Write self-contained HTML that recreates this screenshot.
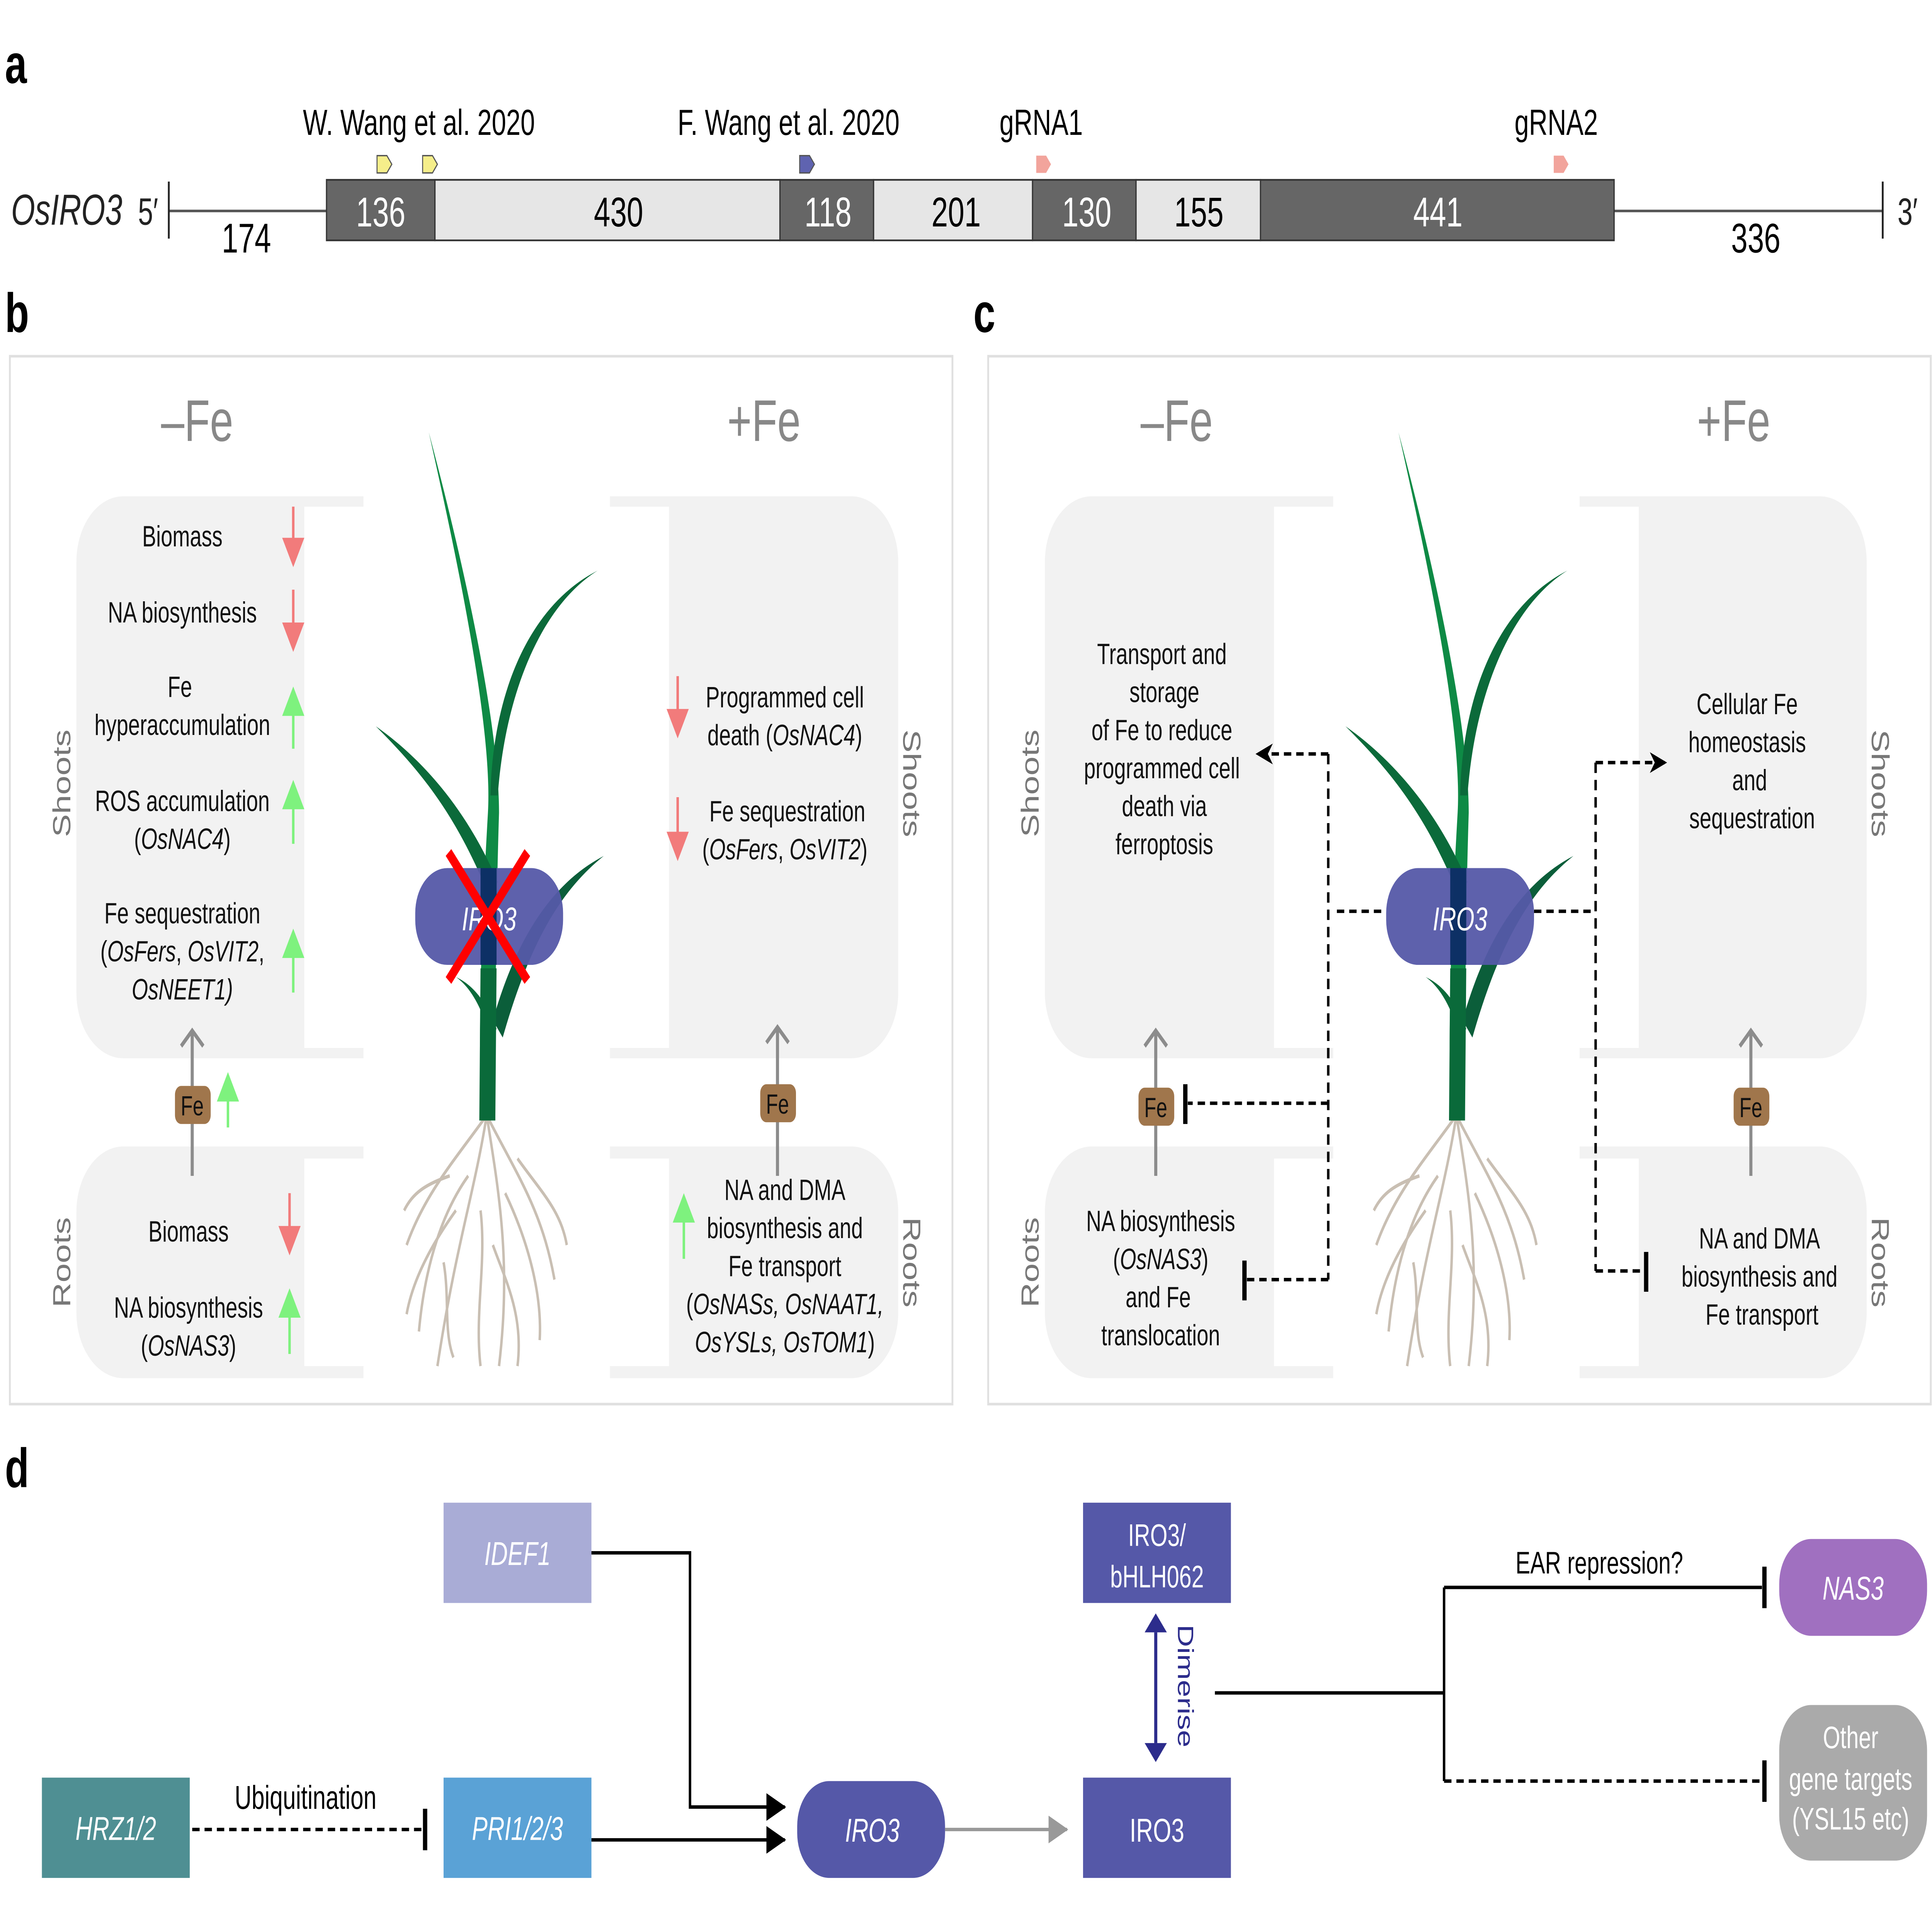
<!DOCTYPE html>
<html><head><meta charset="utf-8"><style>html,body{margin:0;padding:0;background:#fff;width:100%;height:100%;overflow:hidden}svg{display:block;position:fixed;left:0;top:0;width:100vw;height:100vh}</style></head><body>
<svg viewBox="0 0 1568 1108.6" preserveAspectRatio="none" xmlns="http://www.w3.org/2000/svg" font-family="Liberation Sans, Arial, sans-serif">
<defs>
<marker id="ab" markerWidth="16" markerHeight="16" refX="15" refY="8" orient="auto" markerUnits="userSpaceOnUse"><path d="M0,0 L16,8 L0,16 Z" fill="#000"/></marker>
<marker id="ad" markerWidth="14" markerHeight="12" refX="13" refY="6" orient="auto" markerUnits="userSpaceOnUse"><path d="M0,0 L14,6 L0,12 L4,6Z" fill="#000"/></marker>
<marker id="agr" markerWidth="16" markerHeight="16" refX="15" refY="8" orient="auto" markerUnits="userSpaceOnUse"><path d="M0,0 L16,8 L0,16 Z" fill="#999"/></marker>
<g id="plant">
<g fill="none" stroke="#c9bfb3" stroke-width="2">
<path d="M395,645 C385,690 370,720 355,790"/><path d="M395,645 C405,690 415,730 405,790"/><path d="M395,645 C420,680 440,700 450,740"/><path d="M395,645 C370,670 345,690 330,720"/><path d="M380,680 C360,700 345,730 340,770"/><path d="M410,690 C430,720 440,750 438,775"/><path d="M390,700 C395,730 385,760 390,790"/><path d="M370,700 C350,720 335,740 330,760"/><path d="M420,670 C440,690 455,700 460,720"/><path d="M400,720 C410,740 425,760 420,790"/><path d="M360,730 C365,750 360,770 368,785"/><path d="M365,680 C345,685 335,690 328,700"/>
</g>
<path d="M390,645 C388,580 392,520 396,470 C400,420 370,320 348,250 C378,330 405,420 405,470 C402,540 402,600 402,648 Z" fill="#0e8a45"/>
<path d="M398,460 C400,400 430,350 485,330 C440,350 410,400 404,460 Z" fill="#0b6a3a"/>
<path d="M398,520 C370,470 340,445 305,420 C345,440 380,470 404,510 Z" fill="#0b6a3a"/>
<path d="M400,590 C420,540 450,510 490,495 C455,515 430,545 408,600 Z" fill="#0b5e3a"/>
<path d="M398,600 C390,580 380,570 370,565 C385,570 395,580 403,595 Z" fill="#0b6a3a"/>
<path d="M389,648 L390,560 L403,560 L402,648 Z" fill="#0a6a3a"/>
</g>
</defs>
<rect width="1568" height="1109" fill="#fff"/>
<text x="4" y="48" font-size="32" font-weight="bold">a</text>
<line x1="137" y1="122" x2="1528" y2="122" stroke="#555" stroke-width="1.5"/>
<line x1="137" y1="105" x2="137" y2="138" stroke="#222" stroke-width="1.5"/>
<line x1="1528" y1="105" x2="1528" y2="138" stroke="#222" stroke-width="1.5"/>
<text x="9" y="130" font-size="25" font-style="italic" fill="#222">OsIRO3</text>
<text x="112" y="130" font-size="22" fill="#222">5′</text>
<text x="1540" y="130" font-size="22" fill="#222">3′</text>
<g stroke="#333" stroke-width="1">
<rect x="265" y="104" width="88" height="35" fill="#666"/><rect x="353" y="104" width="280" height="35" fill="#e6e6e6"/>
<rect x="633" y="104" width="76" height="35" fill="#666"/><rect x="709" y="104" width="129" height="35" fill="#e6e6e6"/>
<rect x="838" y="104" width="84" height="35" fill="#666"/><rect x="922" y="104" width="101" height="35" fill="#e6e6e6"/>
<rect x="1023" y="104" width="287" height="35" fill="#666"/>
</g>
<g font-size="24" text-anchor="middle">
<text x="309" y="131" fill="#fff">136</text><text x="502" y="131">430</text><text x="672" y="131" fill="#fff">118</text><text x="776" y="131">201</text><text x="882" y="131" fill="#fff">130</text><text x="973" y="131">155</text><text x="1167" y="131" fill="#fff">441</text>
<text x="200" y="146">174</text><text x="1425" y="146">336</text>
<text x="340" y="78" font-size="21">W. Wang et al. 2020</text><text x="640" y="78" font-size="21">F. Wang et al. 2020</text><text x="845" y="78" font-size="21">gRNA1</text><text x="1263" y="78" font-size="21">gRNA2</text>
</g>
<g stroke="#555" stroke-width="0.8">
<path d="M306,90 h8 l4,5 l-4,5 h-8z" fill="#f5ee8a"/><path d="M343,90 h8 l4,5 l-4,5 h-8z" fill="#f5ee8a"/>
<path d="M649,90 h8 l4,5 l-4,5 h-8z" fill="#5f63b0"/><path d="M841,90 h8 l4,5 l-4,5 h-8z" fill="#f2a49c" stroke="none"/><path d="M1261,90 h8 l4,5 l-4,5 h-8z" fill="#f2a49c" stroke="none"/>
</g>
<text x="4" y="192" font-size="32" font-weight="bold">b</text>
<rect x="8" y="206" width="765" height="606" fill="#fff" stroke="#e0e0e0" stroke-width="1.5"/>
<text x="790" y="192" font-size="32" font-weight="bold">c</text>
<rect x="802" y="206" width="765" height="606" fill="#fff" stroke="#e0e0e0" stroke-width="1.5"/>
<g fill="#f2f2f2">
<path d="M295,287 V612 H100 A38,38 0 0 1 62,574 V325 A38,38 0 0 1 100,287Z"/><rect x="247" y="293" width="48" height="313" fill="#fff"/>
<path d="M295,663 V797 H100 A38,38 0 0 1 62,759 V701 A38,38 0 0 1 100,663Z"/><rect x="247" y="670" width="48" height="120" fill="#fff"/>
<path d="M495,287 V612 H691 A38,38 0 0 0 729,574 V325 A38,38 0 0 0 691,287Z"/><rect x="495" y="293" width="48" height="313" fill="#fff"/>
<path d="M495,663 V797 H691 A38,38 0 0 0 729,759 V701 A38,38 0 0 0 691,663Z"/><rect x="495" y="670" width="48" height="120" fill="#fff"/>
<path d="M1082,287 V612 H886 A38,38 0 0 1 848,574 V325 A38,38 0 0 1 886,287Z"/><rect x="1034" y="293" width="48" height="313" fill="#fff"/>
<path d="M1082,663 V797 H886 A38,38 0 0 1 848,759 V701 A38,38 0 0 1 886,663Z"/><rect x="1034" y="670" width="48" height="120" fill="#fff"/>
<path d="M1282,287 V612 H1477 A38,38 0 0 0 1515,574 V325 A38,38 0 0 0 1477,287Z"/><rect x="1282" y="293" width="48" height="313" fill="#fff"/>
<path d="M1282,663 V797 H1477 A38,38 0 0 0 1515,759 V701 A38,38 0 0 0 1477,663Z"/><rect x="1282" y="670" width="48" height="120" fill="#fff"/>
</g>
<g font-size="34" fill="#888" text-anchor="middle"><text x="160" y="255">–Fe</text><text x="620" y="255">+Fe</text><text x="955" y="255">–Fe</text><text x="1407" y="255">+Fe</text></g>
<g font-size="20" fill="#777" text-anchor="middle">
<text transform="translate(57,453) rotate(-90)">Shoots</text><text transform="translate(57,730) rotate(-90)">Roots</text>
<text transform="translate(733,453) rotate(90)">Shoots</text><text transform="translate(733,730) rotate(90)">Roots</text>
<text transform="translate(843,453) rotate(-90)">Shoots</text><text transform="translate(843,730) rotate(-90)">Roots</text>
<text transform="translate(1519,453) rotate(90)">Shoots</text><text transform="translate(1519,730) rotate(90)">Roots</text>
</g>
<use href="#plant"/>
<use href="#plant" transform="translate(787,0)"/>
<rect x="337" y="502" width="120" height="56" rx="26" fill="#5558a8" opacity="0.95"/>
<path d="M390,502 L390,558 L403,558 L403,502Z" fill="#062b5e" opacity="0.9"/>
<text x="397" y="538" font-size="19" font-style="italic" fill="#fff" text-anchor="middle">IRO3</text>
<g stroke="#f00" stroke-width="6"><line x1="364" y1="493" x2="428" y2="567"/><line x1="428" y1="493" x2="364" y2="567"/></g>
<rect x="1125" y="502" width="120" height="56" rx="26" fill="#5558a8" opacity="0.95"/>
<path d="M1177,502 L1177,558 L1190,558 L1190,502Z" fill="#062b5e" opacity="0.9"/>
<text x="1185" y="538" font-size="19" font-style="italic" fill="#fff" text-anchor="middle">IRO3</text>
<g font-size="17" fill="#111" text-anchor="middle">
<text x="148" y="316">Biomass</text><text x="148" y="360">NA biosynthesis</text><text x="146" y="403">Fe</text><text x="148" y="425">hyperaccumulation</text><text x="148" y="469">ROS accumulation</text><text x="148" y="491">(<tspan font-style="italic">OsNAC4</tspan>)</text>
<text x="148" y="534">Fe sequestration</text><text x="148" y="556">(<tspan font-style="italic">OsFers</tspan>, <tspan font-style="italic">OsVIT2</tspan>,</text><text x="148" y="578" font-style="italic">OsNEET1)</text>
<text x="153" y="718">Biomass</text><text x="153" y="762">NA biosynthesis</text><text x="153" y="784">(<tspan font-style="italic">OsNAS3</tspan>)</text>
<text x="637" y="409">Programmed cell</text><text x="637" y="431">death (<tspan font-style="italic">OsNAC4</tspan>)</text>
<text x="639" y="475">Fe sequestration</text><text x="637" y="497">(<tspan font-style="italic">OsFers</tspan>, <tspan font-style="italic">OsVIT2</tspan>)</text>
<text x="637" y="694">NA and DMA</text><text x="637" y="716">biosynthesis and</text><text x="637" y="738">Fe transport</text><text x="637" y="760" font-style="italic"><tspan font-style="normal">(</tspan>OsNASs, OsNAAT1,</text><text x="637" y="782" font-style="italic">OsYSLs, OsTOM1<tspan font-style="normal">)</tspan></text>
<text x="943" y="384">Transport and</text><text x="945" y="406">storage</text><text x="943" y="428">of Fe to reduce</text><text x="943" y="450">programmed cell</text><text x="945" y="472">death via</text><text x="945" y="494">ferroptosis</text>
<text x="942" y="712">NA biosynthesis</text><text x="942" y="734">(<tspan font-style="italic">OsNAS3</tspan>)</text><text x="940" y="756">and Fe</text><text x="942" y="778">translocation</text>
<text x="1418" y="413">Cellular Fe</text><text x="1418" y="435">homeostasis</text><text x="1420" y="457">and</text><text x="1422" y="479">sequestration</text>
<text x="1428" y="722">NA and DMA</text><text x="1428" y="744">biosynthesis and</text><text x="1430" y="766">Fe transport</text>
</g>
<g stroke="#f27b7b" stroke-width="2"><line x1="238" y1="293" x2="238" y2="315"/><line x1="238" y1="341" x2="238" y2="363"/><line x1="235" y1="690" x2="235" y2="712"/><line x1="550" y1="391" x2="550" y2="413"/><line x1="550" y1="461" x2="550" y2="483"/></g>
<g fill="#f27b7b"><path d="M229,311 h18 l-9,17z"/><path d="M229,360 h18 l-9,17z"/><path d="M226,709 h18 l-9,17z"/><path d="M541,410 h18 l-9,17z"/><path d="M541,481 h18 l-9,17z"/></g>
<g stroke="#7ef27e" stroke-width="2"><line x1="238" y1="412" x2="238" y2="433"/><line x1="238" y1="466" x2="238" y2="488"/><line x1="238" y1="552" x2="238" y2="574"/><line x1="235" y1="760" x2="235" y2="783"/><line x1="185" y1="634" x2="185" y2="652"/><line x1="555" y1="705" x2="555" y2="728"/></g>
<g fill="#7ef27e"><path d="M229,414 h18 l-9,-17z"/><path d="M229,468 h18 l-9,-17z"/><path d="M229,554 h18 l-9,-17z"/><path d="M226,762 h18 l-9,-17z"/><path d="M176,637 h18 l-9,-17z"/><path d="M546,707 h18 l-9,-17z"/></g>
<g stroke="#8c8c8c" stroke-width="2.5" fill="none">
<line x1="156" y1="680" x2="156" y2="597"/><path d="M147,605 L156,596 L165,605"/>
<line x1="631" y1="680" x2="631" y2="595"/><path d="M622,603 L631,594 L640,603"/>
<line x1="938" y1="680" x2="938" y2="597"/><path d="M929,605 L938,596 L947,605"/>
<line x1="1421" y1="680" x2="1421" y2="597"/><path d="M1412,605 L1421,596 L1430,605"/>
</g>
<g fill="#a0764c"><rect x="142" y="628" width="29" height="22" rx="5"/><rect x="617" y="627" width="29" height="22" rx="5"/><rect x="924" y="629" width="29" height="22" rx="5"/><rect x="1407" y="629" width="29" height="22" rx="5"/></g>
<g font-size="16" text-anchor="middle" fill="#111"><text x="156" y="645">Fe</text><text x="631" y="644">Fe</text><text x="938" y="646">Fe</text><text x="1421" y="646">Fe</text></g>
<g stroke="#000" stroke-width="2" fill="none" stroke-dasharray="6,4">
<line x1="1078" y1="436" x2="1078" y2="740"/><line x1="1078" y1="436" x2="1020" y2="436" marker-end="url(#ad)"/>
<line x1="1078" y1="638" x2="964" y2="638"/><line x1="1078" y1="740" x2="1012" y2="740"/>
<line x1="1085" y1="527" x2="1125" y2="527"/><line x1="1245" y1="527" x2="1295" y2="527"/>
<line x1="1295" y1="441" x2="1295" y2="735"/><line x1="1295" y1="441" x2="1352" y2="441" marker-end="url(#ad)"/><line x1="1295" y1="735" x2="1334" y2="735"/>
</g>
<g stroke="#000" stroke-width="3.5"><line x1="962" y1="627" x2="962" y2="650"/><line x1="1010" y1="729" x2="1010" y2="752"/><line x1="1336" y1="724" x2="1336" y2="747"/></g>
<text x="4" y="860" font-size="32" font-weight="bold">d</text>
<rect x="360" y="869" width="120" height="58" fill="#a9acd6"/><text x="420" y="905" font-size="19" font-style="italic" fill="#fff" text-anchor="middle">IDEF1</text>
<rect x="34" y="1028" width="120" height="58" fill="#4f8f93"/><text x="94" y="1064" font-size="19" font-style="italic" fill="#fff" text-anchor="middle">HRZ1/2</text>
<rect x="360" y="1028" width="120" height="58" fill="#5aa2d6"/><text x="420" y="1064" font-size="19" font-style="italic" fill="#fff" text-anchor="middle">PRI1/2/3</text>
<rect x="647" y="1030" width="120" height="56" rx="26" fill="#5558a8"/><text x="708" y="1065" font-size="19" font-style="italic" fill="#fff" text-anchor="middle">IRO3</text>
<rect x="879" y="1028" width="120" height="58" fill="#5558a8"/><text x="939" y="1065" font-size="19" fill="#fff" text-anchor="middle">IRO3</text>
<rect x="879" y="869" width="120" height="58" fill="#5558a8"/><text x="939" y="894" font-size="18" fill="#fff" text-anchor="middle">IRO3/</text><text x="939" y="918" font-size="18" fill="#fff" text-anchor="middle">bHLH062</text>
<rect x="1444" y="890" width="120" height="56" rx="26" fill="#a070c0"/><text x="1504" y="925" font-size="19" font-style="italic" fill="#fff" text-anchor="middle">NAS3</text>
<rect x="1444" y="986" width="120" height="90" rx="26" fill="#aaa"/>
<g font-size="18" fill="#fff" text-anchor="middle"><text x="1502" y="1011">Other</text><text x="1502" y="1035">gene targets</text><text x="1502" y="1058">(YSL15 etc)</text></g>
<g stroke="#000" stroke-width="2" fill="none">
<path d="M480,898 H560 V1045 H637" marker-end="url(#ab)"/>
<line x1="480" y1="1064" x2="637" y2="1064" marker-end="url(#ab)"/>
<line x1="156" y1="1058" x2="343" y2="1058" stroke-dasharray="6,4"/>
<line x1="986" y1="979" x2="1172" y2="979"/><line x1="1172" y1="918" x2="1172" y2="1030"/>
<line x1="1172" y1="918" x2="1430" y2="918"/>
<line x1="1172" y1="1030" x2="1430" y2="1030" stroke-dasharray="6,4"/>
</g>
<g stroke="#000" stroke-width="3.5"><line x1="345" y1="1046" x2="345" y2="1070"/><line x1="1432" y1="906" x2="1432" y2="930"/><line x1="1432" y1="1018" x2="1432" y2="1042"/></g>
<line x1="767" y1="1058" x2="866" y2="1058" stroke="#999" stroke-width="2" marker-end="url(#agr)"/>
<line x1="938" y1="944" x2="938" y2="1008" stroke="#2c2c8c" stroke-width="2.5"/>
<path d="M929,944 L938,933 L947,944Z" fill="#2c2c8c"/><path d="M929,1008 L938,1019 L947,1008Z" fill="#2c2c8c"/>
<text transform="translate(956,975) rotate(90)" font-size="18" fill="#2c2c8c" text-anchor="middle">Dimerise</text>
<text x="248" y="1046" font-size="19" text-anchor="middle">Ubiquitination</text>
<text x="1298" y="910" font-size="18" text-anchor="middle">EAR repression?</text>
</svg>
</body></html>
